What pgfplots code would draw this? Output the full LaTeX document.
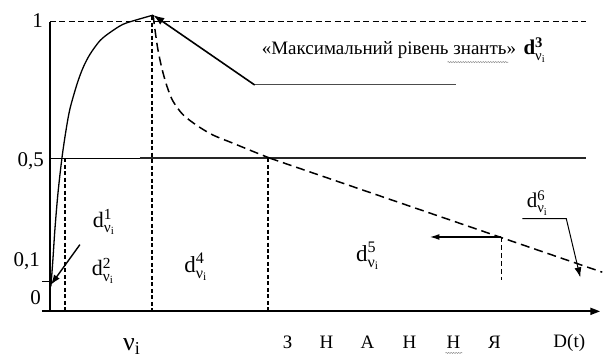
\documentclass[border=0pt]{standalone}
\usepackage{fontspec}
\setmainfont{Liberation Serif}
\usepackage{amsmath}
\usepackage{pgfplots}
\pgfplotsset{compat=1.18}
\usetikzlibrary{arrows.meta,decorations.pathmorphing}

% d with superscript k and subscript nu_i
\newcommand{\dn}[1]{d$^{\text{#1}}_{\text{ν}_{\text{i}}}$}
\newcommand{\dnb}[1]{\textbf{d}$^{\textbf{#1}}_{\text{ν}_{\text{i}}}$}

\begin{document}
\begin{tikzpicture}
\begin{axis}[
  scale only axis, width=603pt, height=359pt,
  xmin=0, xmax=603, ymin=-0.2345, ymax=1.0794,
  hide axis, clip=false
]
% keep the full frame in the bounding box
\addplot[draw=none] coordinates {(0,-0.2345)(603,1.0794)};

% axes
\addplot[black, line width=1.4pt] coordinates {(50,1.0)(50,-0.0615)};
\addplot[black, line width=2pt, -{Triangle[length=10pt,width=7pt]}]
  coordinates {(42,-0.0615)(601,-0.0615)};
\addplot[black, line width=0.6pt] coordinates {(42,0.047)(52,0.047)};

% reference levels
\addplot[black, line width=1.3pt, dash pattern=on 6pt off 3.5pt]
  coordinates {(50,1)(587,1)};
\addplot[black, line width=0.7pt] coordinates {(50,0.5)(140,0.5)};
\addplot[black!85, line width=1.6pt] coordinates {(140,0.5)(587,0.5)};

% vertical markers
\addplot[black, line width=2pt, dash pattern=on 4pt off 2.5pt] coordinates {(65,0.5)(65,-0.0615)};
\addplot[black, line width=2pt, dash pattern=on 4pt off 2.5pt] coordinates {(152.5,1.02)(152.5,-0.0615)};
\addplot[black, line width=2pt, dash pattern=on 4pt off 2.5pt] coordinates {(268,0.5)(268,-0.0615)};
\addplot[black, line width=1pt, dash pattern=on 5pt off 3pt] coordinates {(502,0.211)(502,0.055)};

% learning curve
\addplot[black, line width=1.3pt, smooth, tension=0.5] coordinates {
  (51,0.03)(53,0.13)(55,0.24)(58,0.37)(62,0.50)(66,0.60)(70,0.68)(77,0.77)
  (83,0.83)(90,0.88)(100,0.93)(110,0.96)(123,0.99)(138,1.008)(153.3,1.024)};

% forgetting curve
\addplot[black, line width=1.5pt, dash pattern=on 9pt off 5pt, smooth, tension=0.5] coordinates {
  (153.3,1.024)(155,0.975)(158,0.90)(162,0.83)(167,0.765)(173,0.71)(183,0.66)
  (197,0.62)(213,0.585)(233,0.555)(253,0.525)(270,0.5)};
\addplot[black, line width=1.5pt, dash pattern=on 9pt off 5pt] coordinates {(270,0.5)(603,0.082)};

% pointers
\addplot[black, line width=1.6pt, -{Latex[length=11pt,width=8pt]}] coordinates {(255,0.768)(153.5,1.024)};
\addplot[black!70, line width=1pt] coordinates {(255,0.768)(457,0.768)};
\addplot[black, line width=1.6pt, -{Latex[length=10pt,width=6pt]}] coordinates {(502,0.211)(430,0.211)};
\addplot[black, line width=1pt, -{Latex[length=10pt,width=7pt]}] coordinates {(523,0.278)(567,0.278)(581,0.063)};
\addplot[black, line width=1.4pt, -{Latex[length=10pt,width=7pt]}] coordinates {(80,0.183)(51,0.036)};

% spell-check squiggles
\addplot[black!45, line width=0.5pt, decorate, decoration={snake,amplitude=0.6pt,segment length=2.5pt}]
  coordinates {(448,0.852)(509,0.852)};
\addplot[black!45, line width=0.5pt, decorate, decoration={snake,amplitude=0.6pt,segment length=2.5pt}]
  coordinates {(446,-0.214)(463,-0.214)};

% tick labels
\node[anchor=east, inner sep=0pt, font=\fontsize{21}{23}\selectfont] at (axis cs:43,1.005) {1};
\node[anchor=east, inner sep=0pt, font=\fontsize{21}{23}\selectfont] at (axis cs:44,0.49) {0,5};
\node[anchor=east, inner sep=0pt, font=\fontsize{21}{23}\selectfont] at (axis cs:40,0.123) {0,1};
\node[anchor=east, inner sep=0pt, font=\fontsize{21}{23}\selectfont] at (axis cs:41,-0.011) {0};

% labels
\node[anchor=base west, inner sep=0, font=\fontsize{19}{22}\selectfont] at (axis cs:262,0.878)
  {«Максимальний рівень знанть»};
\node[anchor=base west, inner sep=0, font=\fontsize{21}{24}\selectfont] at (axis cs:524,0.878) {\dnb{3}};
\node[inner sep=0, font=\fontsize{22}{24}\selectfont] at (axis cs:104,0.265) {\dn{1}};
\node[inner sep=0, font=\fontsize{22}{24}\selectfont] at (axis cs:103,0.087) {\dn{2}};
\node[inner sep=0, font=\fontsize{23}{26}\selectfont] at (axis cs:196,0.102) {\dn{4}};
\node[inner sep=0, font=\fontsize{23}{26}\selectfont] at (axis cs:368,0.142) {\dn{5}};
\node[inner sep=0, font=\fontsize{21}{24}\selectfont] at (axis cs:538,0.336) {\dn{6}};

% bottom labels
\node[font=\fontsize{26}{28}\selectfont] at (axis cs:132,-0.19) {ν$_{\text{i}}$};
\node[font=\fontsize{19}{21}\selectfont] at (axis cs:288,-0.176) {З};
\node[font=\fontsize{19}{21}\selectfont] at (axis cs:327,-0.176) {Н};
\node[font=\fontsize{19}{21}\selectfont] at (axis cs:368,-0.176) {А};
\node[font=\fontsize{19}{21}\selectfont] at (axis cs:410,-0.176) {Н};
\node[font=\fontsize{19}{21}\selectfont] at (axis cs:454,-0.176) {Н};
\node[font=\fontsize{19}{21}\selectfont] at (axis cs:495,-0.176) {Я};
\node[font=\fontsize{19}{21}\selectfont] at (axis cs:570,-0.176) {D(t)};
\end{axis}
\end{tikzpicture}
\end{document}
